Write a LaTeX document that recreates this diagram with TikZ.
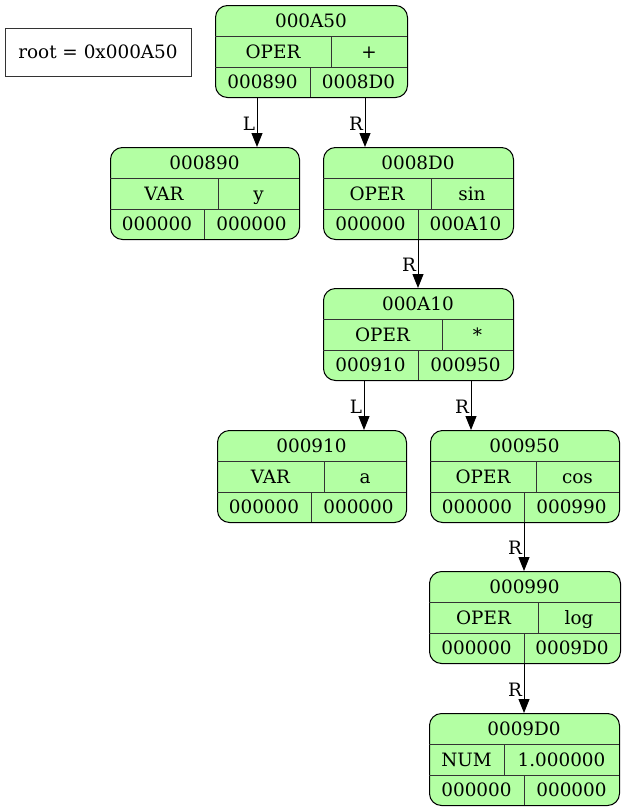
\documentclass[tikz,border=0pt]{standalone}
\usepackage{fontspec}
\setmainfont{DejaVu Serif}
\usetikzlibrary{arrows.meta}
\definecolor{recfill}{HTML}{B3FFA3}
\definecolor{recline}{HTML}{333333}

\begin{document}
\begin{tikzpicture}[x=1pt,y=-1pt,
    every node/.style={font=\fontsize{18.4}{22}\selectfont, inner sep=0pt},
    recbox/.style={draw=black, fill=recfill, rounded corners=12pt, line width=1pt, anchor=north west, minimum height=92pt},
    sep/.style={draw=recline, line width=1pt},
    cell/.style={text height=13.4pt, text depth=0pt},
    edge/.style={-{Triangle[length=14pt,width=11pt]}, line width=1pt},
    lab/.style={cell, anchor=east, inner sep=1.5pt}]
    \useasboundingbox (0,0) rectangle (626,811);
    \node [draw=recline, line width=1pt, minimum width=186pt, minimum height=48pt] (root) at (98,52) {root = 0x000A50};
    % records: name / left / top / right / type / value / divider row 2 / divider row 3 / left child / right child
    \foreach \n/\xa/\ya/\xb/\ty/\va/\da/\db/\lf/\rt in {
        A50/215/5/407/OPER/+/331/310/000890/0008D0,
        890/110/147/299/VAR/y/218/204/000000/000000,
        8D0/323/147/513/OPER/sin/431/418/000000/000A10,
        A10/323/288/513/OPER/*/442/418/000910/000950,
        910/217/430/406/VAR/a/324/311/000000/000000,
        950/430/430/619/OPER/cos/536/524/000000/000990,
        990/429/571/620/OPER/log/538/524/000000/0009D0,
        9D0/429/713/619/NUM/1.000000/504/524/000000/000000}{
        \node [recbox, minimum width={(\xb-\xa)*1pt}] (n\n) at (\xa,\ya) {};
        \draw [sep] (\xa,\ya+31) -- (\xb,\ya+31);
        \draw [sep] (\xa,\ya+62) -- (\xb,\ya+62);
        \draw [sep] (\da,\ya+31) -- (\da,\ya+62);
        \draw [sep] (\db,\ya+62) -- (\db,\ya+92);
        \node [cell] (n\n-t) at ({(\xa+\xb)/2},\ya+15.5) {000\n};
        \node [cell] (n\n-ty) at ({(\xa+\da)/2},\ya+46.5) {\ty};
        \node [cell] (n\n-va) at ({(\da+\xb)/2},\ya+46.5) {\va};
        \node [cell] (n\n-l) at ({(\xa+\db)/2},\ya+77) {\lf};
        \node [cell] (n\n-r) at ({(\db+\xb)/2},\ya+77) {\rt};
    }
    % child links
    \foreach \a/\b/\x/\s in {A50/890/257/L, A50/8D0/365/R, 8D0/A10/418/R, A10/910/364/L,
        A10/950/471/R, 950/990/524/R, 990/9D0/524/R}{
        \coordinate (p) at (\x,0);
        \draw [edge] (p |- n\a.south) -- (p |- n\b.north) node [lab, pos=0.52] (l\a\b) {\s};
    }
\end{tikzpicture}
\end{document}
